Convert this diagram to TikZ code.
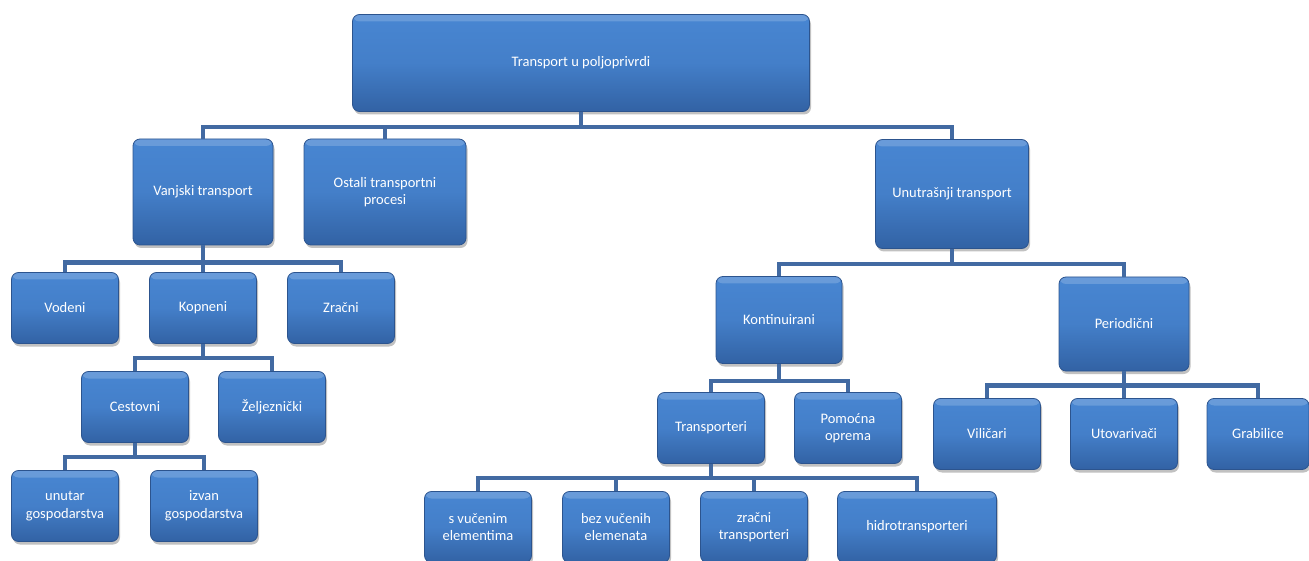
\documentclass[tikz,border=0pt]{standalone}
\usepackage{fontspec}
\setmainfont{Carlito}
\usetikzlibrary{shadows}

\definecolor{boxtop}{RGB}{72,134,210}
\definecolor{boxbot}{RGB}{50,98,164}
\definecolor{boxedge}{RGB}{44,84,142}
\definecolor{linkcol}{RGB}{66,106,162}

\tikzset{
    box/.style={
        rectangle, rounded corners=7pt,
        draw=boxedge, line width=0.8pt,
        top color=boxtop, bottom color=boxbot, middle color=boxtop!80!boxbot,
        text=white, align=center,
        font=\fontsize{14.5}{17.5}\selectfont,
        inner sep=2pt,
        path picture={
            \fill[white, opacity=0.18] (path picture bounding box.north west)
                rectangle ([yshift=-7pt]path picture bounding box.north east);
        },
        drop shadow={shadow xshift=1.5pt, shadow yshift=-3pt, opacity=0.35, fill=black!70}
    },
    smallbox/.style={box, minimum width=107, minimum height=71},
    link/.style={draw=linkcol, line width=4.5pt}
}

\begin{document}
\begin{tikzpicture}[x=1pt,y=-1pt]
    \useasboundingbox (0,0) rectangle (1309,561);

    % top level
    \node[box, minimum width=457, minimum height=97] (root) at (581,63) {Transport u poljoprivrdi};

    \node[box, minimum width=140, minimum height=106] (vanjski) at (203,192) {Vanjski transport};
    \node[box, minimum width=162, minimum height=106] (ostali) at (385,192) {Ostali transportni\\procesi};
    \node[box, minimum width=153, minimum height=109] (unutarnji) at (952,194) {Unutrašnji transport};

    % vanjski transport
    \node[smallbox] (vodeni) at (65,308) {Vodeni};
    \node[smallbox] (kopneni) at (203,308) {Kopneni};
    \node[smallbox] (zracni) at (341,308) {Zračni};
    \node[smallbox] (cestovni) at (135,407) {Cestovni};
    \node[smallbox] (zeljeznicki) at (272,407) {Željeznički};
    \node[smallbox] (unutar) at (65,506) {unutar\\gospodarstva};
    \node[smallbox] (izvan) at (204,506) {izvan\\gospodarstva};

    % unutarnji transport
    \node[box, minimum width=126, minimum height=87] (kontinuirani) at (779,320) {Kontinuirani};
    \node[box, minimum width=130, minimum height=94] (periodicni) at (1124,324) {Periodični};

    \node[smallbox] (transporteri) at (711,428) {Transporteri};
    \node[smallbox] (pomocna) at (848,428) {Pomoćna\\oprema};

    \node[smallbox] (vilicari) at (987,434) {Viličari};
    \node[smallbox] (utovarivaci) at (1124,434) {Utovarivači};
    \node[smallbox, minimum width=102] (grabilice) at (1258,434) {Grabilice};

    \node[smallbox] (svucenim) at (478,527) {s vučenim\\elementima};
    \node[smallbox] (bezvucenih) at (616,527) {bez vučenih\\elemenata};
    \node[smallbox] (zracnitr) at (754,527) {zračni\\transporteri};
    \node[smallbox, minimum width=159] (hidro) at (917,527) {hidrotransporteri};

    % connectors
    \foreach \c in {vanjski,ostali,unutarnji}
        \draw[link] (root.south) -- ++(0,15) -| (\c.north);
    \foreach \c in {vodeni,kopneni,zracni}
        \draw[link] (vanjski.south) -- ++(0,17) -| (\c.north);
    \foreach \c in {cestovni,zeljeznicki}
        \draw[link] (kopneni.south) -- ++(0,14) -| (\c.north);
    \foreach \c in {unutar,izvan}
        \draw[link] (cestovni.south) -- ++(0,14) -| (\c.north);
    \foreach \c in {kontinuirani,periodicni}
        \draw[link] (unutarnji.south) -- ++(0,15) -| (\c.north);
    \foreach \c in {transporteri,pomocna}
        \draw[link] (kontinuirani.south) -- ++(0,17) -| (\c.north);
    \foreach \c in {vilicari,utovarivaci,grabilice}
        \draw[link] (periodicni.south) -- ++(0,14) -| (\c.north);
    \foreach \c in {svucenim,bezvucenih,zracnitr,hidro}
        \draw[link] (transporteri.south) -- ++(0,14) -| (\c.north);
\end{tikzpicture}
\end{document}
